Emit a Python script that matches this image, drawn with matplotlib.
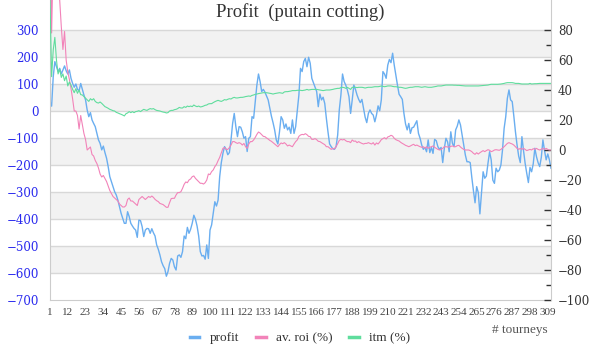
import matplotlib
matplotlib.use('Agg')
import matplotlib.pyplot as plt
import numpy as np
from matplotlib.ticker import FixedLocator

plt.rcParams['font.family'] = ['Liberation Serif', 'DejaVu Serif']

######################################################################## data

# profit, left axis (one value per tourney)
profit = [
    35, 18, 127, 183, 164, 146, 158, 137, 152, 167,
    149, 137, 152, 121, 102, 88, 100, 80, 75, 102,
    80, 59, 41, 4, -21, -6, -33, -46, -58, -83,
    -107, -120, -144, -130, -154, -175, -206, -243, -262, -280,
    -299, -311, -330, -354, -379, -398, -416, -416, -373, -391,
    -416, -426, -435, -441, -468, -404, -406, -428, -465, -441,
    -435, -436,
    -453, -436, -451, -463, -496, -512, -533, -558, -573, -584,
    -612, -595, -564, -546, -552, -577, -589, -537, -533, -542,
    -521, -463, -473, -431, -453, -438, -416, -386, -401, -426,
    -463, -521, -537, -535, -549, -496, -546, -441, -422, -379,
    -336, -352, -330, -243, -191, -157, -132, -142, -162, -154,
    -107, -46, -9, -58, -95, -58, -60, -77, -101,
    -95, -150, -101, -95, -21, -27, 35, 96, 137, 109,
    72, 80, 70, 56, 41, 10, -19, -43, -70, -107,
    -122, -77, -21, -33, -64, -48, -70, -60, -83, -33,
    -83, -58, 2, 59, 158, 146, 183, 195, 164, 199,
    177, 121, 105, 88, 72, 16, 63, 41, 51, 28,
    -27, -77, -122, -132, -140, -142, -132, -89, 4, 59,
    137, 109, 96, 78, 53,
    -9, 41, 96, 80, 59, 43, 31, 43, 10, -23,
    -43, -9, 4, -9, -15, -40, -15, 19, 1, 41,
    146, 137, 121, 170, 191, 179, 214, 170, 133, 96,
    62, 53, 43, -9, -48, -70, -46, -83, -62, -60,
    -48, -36, -83, -101, -126, -142, -135, -151, -107, -154,
    -135, -157, -105, -110, -132, -142, -135, -191, -138,
    -101, -114, -151, -77, -120, -132, -70, -56, -33, -52,
    -89, -126, -163, -188, -188, -191, -246, -295, -340, -280,
    -302, -381, -305, -225, -249, -241, -194, -151, -181, -256,
    -268, -212, -225, -219, -200, -144, -64, -21, 47, 78,
    41, 35, -19, -77, -126, -167, -191, -95, -147, -194,
    -231, -265, -209, -225, -196, -138, -169, -191, -206, -172,
    -107, -147, -181, -159, -181, -212,
]

# average roi (%), right axis
roi = [
    150, 78, 130, 120, 110, 105,
    100, 82, 67, 79, 60, 52, 47, 41, 34, 26,
    26, 23, 14, 23, 17, 11, 7, 0, 1, 2,
    -3, -4, -7, -9, -12, -16, -18, -17, -19, -21,
    -24, -27, -29, -31, -32, -33, -34, -36, -37, -38,
    -38, -37, -33, -32, -34, -34, -35, -36, -37, -33,
    -32, -31, -32, -33, -32, -31,
    -31.6, -30.7, -31.6, -32.9, -33.8, -34.4, -35.6, -36, -36.4, -37.3,
    -38.2, -38.2, -35.1, -32.4, -32.2, -32.2, -30, -28.4, -28.4, -27.8,
    -25.6, -22.9, -21.3, -21.8, -20, -19.3, -17.8, -17.3, -18.9, -20,
    -21.1, -22.2, -22.2, -22.7, -21.8, -20, -16, -16.4, -14.4, -13.3,
    -11.1, -9.6, -7.1, -4.9, -1.8, 1.1, 1.6, 0.4, 0.4, 1.6,
    3.3, 5.6, 5.6, 4.9, 4.4, 4.9, 4.4, 3.3, 4.4,
    2.2, 1.1, 4, 5.6, 5.6, 6.7, 8.4, 10.4, 12, 11.3,
    10.2, 9.1, 8.9, 8, 7.3, 6.4, 5.8, 4.9, 4, 3.1,
    2.2, 3.6, 4.7, 4.2, 4.9, 4, 2.7, 3.3, 2.7, 2.2,
    4, 5.6, 6.7, 9.1, 10, 10.4, 10.2, 10.9, 10.2, 9.1,
    8.9, 7.1, 7.1, 7.6, 6.9, 5.8, 5.6, 4.9, 4.2, 3.6,
    2.2, 2.2, 1.3, 0.4, 1.1, 0.7, 2.2, 4.2, 6.4, 7.1,
    6.7, 7.1, 6.2, 5.6, 5.6, 4.9,
    6.7, 5.8, 6, 4.9, 5.6, 4.9, 4.4, 4, 4.4, 4.4,
    4.9, 4.4, 4, 4.9, 3.3, 4.7, 4, 5.3, 6.9, 7.6,
    8.2, 7.3, 8.7, 9.1, 9.8, 9.3, 7.8, 6.9, 6.4, 6,
    5.1, 4.4, 3.8, 3.1, 2.7, 2.2, 2.7, 3.3, 3.8, 2.9,
    3.3, 2.7, 2.2, 1.8, 2.2, 1.1, 2.2, 1.1, 1.8, 2.2,
    2.7, 1.8, 1.1, 0.4, 0, 0.4, 1.1, 2.2,
    2.2, 2, 2, 2.4, 2.7, 2.2, 2.2, 2.9, 3.1, 2,
    1.1, 0.4, 0, 0, 0, -0.4, -1.1, -2.2, -2.9, -1.8,
    -2.7, -1.8, -1.1, -0.4, -1.1, -0.4, 0.2, -0.2, -1.1, -0.7,
    0, 0.2, 0, -0.2, 0.4, 1.3, 2.2, 3.3, 4.4, 4.9,
    4.4, 4, 3.3, 2.2, 1.1, 0.4, 1.1, 0.4, 1.1, 0.4,
    -0.4, 0, 0.4, 0, 0.9, 0.4, 1.1, 0.4, 0, 0.4,
    1.1, 0.4, 1.1, 0.4, 0, 0,
]

# in the money (%), right axis
itm = [
    100, 48.9, 66.7, 75.1, 60, 50.7, 53.8, 48.4, 50.7, 46.2,
    49.3, 42.7, 45.3, 43.3, 40.4, 38.2, 40.9, 37.8, 40, 36.9,
    36.7, 35.6, 34.4, 33.3, 32.4, 34.2, 33.3, 34.2, 32.4, 31.6,
    31.3, 32, 31.1, 30, 28.9, 28.4, 27.8, 27.1, 26.7, 26.2,
    26, 25.1, 24.7, 24.2, 23.8, 23.3, 22.7, 24.2, 24.7, 25.6,
    24.9, 25.6, 24.9, 25.6, 25.8, 26.2, 25.6, 26.4, 27.1, 26.7,
    26.4, 27.1,
    27.6, 27.3, 27.6, 26.9, 26.4, 26.2, 26, 25.6, 25.3, 25.1,
    24.7, 24.9, 26, 26.4, 26.4, 26.9, 27.1, 27.6, 28.4, 28,
    28, 28.9, 28.4, 29.3, 28.9, 29.3, 28.9, 30, 29.3, 28.9,
    29.3, 28.7, 28.9, 29.3, 29.8, 30, 30.7, 30.9, 30.9, 31.6,
    32.2, 32.7, 33.1, 32.7, 32.4, 32.9, 33.6, 33.3, 33.8, 34.2,
    34, 34.7, 35.1, 34.7, 34.7, 34.9, 35.1, 35.1, 35.3, 35.6,
    35.8, 36, 35.8,
    36.4, 36.7, 37.1, 37.3, 37.6, 37.8, 38, 38.2, 38.2, 38.2,
    38, 37.8, 37.6, 37.3, 37.6, 37.8, 38, 38.2, 38, 37.8,
    38.7, 38.9, 38.9, 39.1, 39.3, 39.6, 39.6, 39.6, 39.8, 39.8,
    39.8, 39.6, 39.8, 40, 40.4, 40, 40.2, 40.4, 40.4, 40.4,
    40.4, 40.2, 40, 39.8, 39.6, 39.8, 40, 40, 40, 40.2,
    40.4, 40.7, 40.9, 41.1, 41.1, 41.6, 41.8, 41.6, 41.1, 41.8,
    41.1, 40.4,
    41.8, 41.8, 41.8, 41.6, 41.8, 41.8, 41.8, 41.6, 41.3, 41.6,
    41.8, 41.8, 41.8, 42, 42.2, 42.2, 42.2, 42.4, 42.7, 42.4,
    42.2, 42.4, 42.7, 42.7, 42.7, 42.4, 42.2, 42.2, 42, 41.8,
    41.8, 41.6, 41.3, 41.1, 41.3, 41.6, 41.8, 41.8, 42, 42.2,
    42.2, 42.2, 42, 41.8, 42, 42.2, 42, 41.8, 41.8, 41.8,
    42, 42.2, 42.4, 42.7, 42.7, 42.7, 42.9, 43.1,
    43.3, 43.3, 43.3, 43.3, 43.3, 43.2, 43.2, 43.1, 43.1, 43,
    42.9, 42.8, 42.7, 42.7, 42.7, 42.7, 42.7, 42.7, 42.7, 42.7,
    42.7, 42.8, 42.9, 43, 43.1, 43.2, 43.3, 43.6, 43.8, 43.8,
    43.8, 43.8, 43.8, 43.9, 44, 44.2, 44.4, 44.7, 44.9, 44.9,
    44.9, 44.9, 44.7, 44.4, 44.4, 44.4, 44.2, 44, 44, 44,
    44, 44, 44.4, 44, 44.1, 44.2, 44.2, 44.3, 44.4, 44.4,
    44.4, 44.4, 44.4, 44.4, 44.4, 44.4,
]

x_ticks = list(range(1, 310, 11))
x_labels = [str(i) for i in x_ticks]
left_ticks = list(range(-700, 301, 100))
right_ticks = list(range(-100, 81, 20))
right_minor = list(range(-90, 71, 20))

BLUE = '#6aaef0'
PINK = '#f283b9'
GREEN = '#5fdd9d'

###################################################################### figure

fig = plt.figure(figsize=(6, 3.6), dpi=100)
ax = fig.add_axes([50 / 600, 60 / 360, 501 / 600, 300 / 360])
ax2 = ax.twinx()

n = len(profit)
ax.set_xlim(1, n)
ax.set_ylim(-700, 300 + 30 / 27 * 100)
ax2.set_ylim(-100, 100)

# alternate grid bands
for lo in [200, 0, -200, -400, -600]:
    ax.axhspan(lo, lo + 100, color='#f2f2f2', lw=0, zorder=0)
for v in left_ticks[1:]:
    ax.axhline(v, color='#d8d8d8', lw=1, zorder=0.5)

ax.plot(np.arange(1, len(profit) + 1), profit, color=BLUE, lw=1.0, label='profit')
ax2.plot(np.arange(1, len(roi) + 1), roi, color=PINK, lw=0.8, label='av. roi (%)')
ax2.plot(np.arange(1, len(itm) + 1), itm, color=GREEN, lw=0.8, label='itm (%)')

# left axis
ax.set_yticks(left_ticks)
ax.tick_params(axis='y', length=0, pad=8, labelcolor='#2a2aee', labelsize=8.5)
for t in ax.get_yticklabels():
    t.set_family('DejaVu Serif')

# x axis
ax.set_xticks(x_ticks)
ax.set_xticklabels(x_labels)
ax.tick_params(axis='x', length=0, pad=6, labelsize=8, labelcolor='#444444')

# right axis
ax2.set_yticks(right_ticks)
ax2.yaxis.set_minor_locator(FixedLocator(right_minor))
ax2.tick_params(axis='y', which='major', direction='in', length=5, width=1,
                color='#333333', pad=5, labelcolor='#333333', labelsize=8.5)
ax2.tick_params(axis='y', which='minor', direction='in', length=3.5, width=1,
                color='#333333')
for t in ax2.get_yticklabels():
    t.set_family('DejaVu Serif')

for s in ['top', 'right']:
    ax.spines[s].set_visible(False)
for s in ['left', 'bottom']:
    ax.spines[s].set_color('#cccccc')
for s in ['top', 'left', 'bottom']:
    ax2.spines[s].set_visible(False)
ax2.spines['right'].set_color('#cccccc')

fig.text(0.5, 1 - 12 / 360, 'Profit  (putain cotting)', ha='center', va='center',
         fontsize=13.5, color='#333333')
fig.text(548 / 600, 1 - 330 / 360, '# tourneys', ha='right', va='center',
         fontsize=9.5, color='#555555')

h1, l1 = ax.get_legend_handles_labels()
h2, l2 = ax2.get_legend_handles_labels()
leg = fig.legend(h1 + h2, l1 + l2, loc='center', bbox_to_anchor=(300 / 600, 1 - 338 / 360),
                 ncol=3, frameon=False, fontsize=9.5, handlelength=0.75, handletextpad=0.75,
                 columnspacing=1.3, labelcolor='#333333')
for line in leg.get_lines():
    line.set_linewidth(2.5)

fig.savefig('out.png', dpi=100)
